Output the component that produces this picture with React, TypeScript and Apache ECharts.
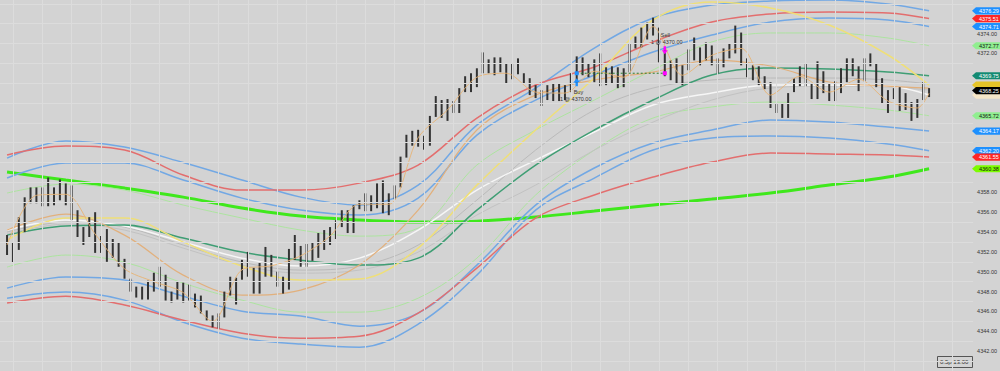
import React, { useEffect, useRef } from 'react';
import * as echarts from 'echarts';

// ---- OHLC bar ranges (price) ----
const highs = [
  4353.7, 4352.9, 4355.5, 4357.5, 4358.5, 4358.5, 4358.5, 4359.5, 4358.5, 4359.3,
  4358.9, 4358.7, 4356.2, 4354.5, 4355.5, 4356.0, 4353.6, 4354.3, 4353.3, 4353.0,
  4351.3, 4349.3, 4348.5, 4348.5, 4349.1, 4349.9, 4350.5, 4349.7, 4348.0, 4349.0,
  4348.9, 4348.7, 4347.8, 4347.6, 4346.1, 4345.6, 4345.8, 4348.0, 4349.5, 4349.4,
  4351.2, 4352.0, 4350.4, 4350.9, 4352.5, 4351.7, 4350.0, 4349.5, 4352.3, 4353.7,
  4352.6, 4352.8, 4352.9, 4353.9, 4354.2, 4354.5, 4355.2, 4356.2, 4356.2, 4356.7,
  4357.2, 4357.9, 4357.7, 4358.9, 4359.2, 4357.9, 4358.7, 4361.6, 4363.8, 4364.2,
  4364.3, 4363.7, 4365.7, 4367.7, 4367.3, 4367.4, 4367.2, 4368.5, 4369.7, 4370.0,
  4370.5, 4372.1, 4371.4, 4371.6, 4371.6, 4371.0, 4371.0, 4371.5, 4370.0, 4369.5,
  4368.8, 4368.3, 4368.8, 4369.0, 4369.0, 4368.8, 4370.0, 4371.7, 4371.6, 4371.0,
  4371.4, 4372.0, 4370.6, 4370.7, 4370.6, 4370.5, 4373.0, 4373.7, 4374.6, 4375.1,
  4375.6, 4374.6, 4372.5, 4371.3, 4371.5, 4370.8, 4372.4, 4373.6, 4372.6, 4373.1,
  4372.8, 4371.5, 4372.5, 4373.0, 4374.8, 4374.1, 4371.5, 4370.8, 4370.7, 4369.7,
  4369.1, 4366.9, 4367.0, 4368.0, 4369.5, 4370.7, 4371.0, 4369.0, 4371.2, 4370.2,
  4369.0, 4369.2, 4370.5, 4371.5, 4371.5, 4370.7, 4371.5, 4372.0, 4371.0, 4369.5,
  4368.3, 4368.5, 4368.6, 4368.0, 4367.1, 4367.4, 4369.1, 4368.5,
];
const lows = [
  4351.7, 4350.9, 4352.2, 4354.0, 4356.9, 4356.9, 4356.6, 4356.6, 4356.7, 4357.2,
  4356.7, 4355.2, 4353.5, 4352.7, 4353.5, 4351.9, 4351.9, 4351.0, 4351.4, 4350.5,
  4349.3, 4348.0, 4347.4, 4347.2, 4347.2, 4348.0, 4348.5, 4347.1, 4346.9, 4347.2,
  4346.9, 4347.1, 4346.4, 4345.8, 4345.1, 4344.4, 4344.3, 4345.4, 4347.6, 4346.7,
  4349.2, 4349.5, 4347.8, 4347.8, 4349.5, 4349.5, 4348.5, 4347.8, 4348.2, 4351.2,
  4350.5, 4350.5, 4351.1, 4351.4, 4352.2, 4352.7, 4353.3, 4354.5, 4353.9, 4353.9,
  4356.3, 4356.1, 4356.1, 4356.4, 4355.9, 4355.7, 4357.3, 4358.5, 4361.5, 4362.7,
  4362.6, 4362.3, 4362.7, 4365.6, 4365.5, 4365.2, 4366.0, 4366.0, 4368.1, 4368.1,
  4368.6, 4370.0, 4370.0, 4369.8, 4370.1, 4369.0, 4369.4, 4369.9, 4369.0, 4367.8,
  4367.5, 4366.7, 4367.3, 4367.2, 4367.2, 4367.3, 4368.1, 4369.0, 4369.8, 4369.6,
  4369.1, 4368.7, 4368.8, 4369.0, 4368.5, 4368.6, 4370.1, 4372.5, 4372.6, 4373.4,
  4373.8, 4371.1, 4369.7, 4369.3, 4369.0, 4368.8, 4370.3, 4371.3, 4370.8, 4371.3,
  4370.8, 4370.0, 4370.6, 4371.5, 4372.0, 4370.8, 4369.6, 4369.3, 4368.8, 4368.4,
  4366.5, 4366.0, 4365.5, 4365.5, 4368.1, 4368.7, 4368.7, 4367.4, 4367.4, 4368.0,
  4367.2, 4367.2, 4368.0, 4369.1, 4369.7, 4368.2, 4369.2, 4370.7, 4368.6, 4366.9,
  4366.0, 4367.4, 4366.2, 4366.3, 4365.2, 4365.5, 4367.3, 4367.6,
];

// ---- indicator lines, sampled at these bar indices ----
const lineIdx = [0, 10, 20, 30, 40, 50, 60, 70, 80, 90, 100, 110, 120, 130, 140, 150, 157];
const upperBlueOuter = [4361.45, 4363.17, 4362.56, 4361.0, 4359.24, 4357.52, 4356.72, 4358.73, 4364.78, 4368.51, 4372.54, 4375.57, 4376.88, 4377.28, 4377.38, 4376.98, 4376.29];
const upperRed = [4361.76, 4362.66, 4362.26, 4359.74, 4358.23, 4358.23, 4358.93, 4360.75, 4365.49, 4368.81, 4370.63, 4373.15, 4375.16, 4375.97, 4376.17, 4376.07, 4375.51];
const upperBlueInner = [4359.44, 4360.95, 4360.95, 4359.24, 4357.42, 4356.21, 4355.71, 4357.42, 4363.77, 4367.3, 4369.82, 4372.14, 4373.85, 4375.16, 4375.57, 4375.37, 4374.71];
const upperThinGreen = [4357.93, 4358.83, 4358.23, 4356.72, 4355.41, 4354.2, 4353.59, 4354.4, 4360.75, 4364.28, 4367.3, 4370.33, 4373.15, 4374.06, 4374.06, 4373.55, 4372.77];
const yellowLine = [4353.19, 4355.41, 4355.41, 4352.99, 4350.57, 4349.16, 4349.26, 4352.38, 4358.73, 4364.28, 4369.52, 4375.37, 4377.18, 4376.58, 4374.86, 4371.84, 4368.81];
const tanLine = [4354.2, 4355.81, 4353.69, 4349.66, 4347.64, 4348.15, 4350.67, 4356.21, 4364.28, 4367.8, 4369.32, 4370.12, 4371.33, 4370.73, 4369.12, 4368.71, 4368.51];
const tealLine = [4353.69, 4354.6, 4354.7, 4353.39, 4351.98, 4351.17, 4350.67, 4351.37, 4356.21, 4360.75, 4364.28, 4367.3, 4369.82, 4370.53, 4370.43, 4370.12, 4369.75];
const whiteLine = [4354.2, 4355.21, 4354.6, 4352.99, 4351.37, 4350.57, 4351.37, 4354.2, 4358.23, 4361.25, 4364.08, 4366.8, 4368.01, 4368.81, 4368.81, 4368.71, 4367.8];
const grayLine1 = [4354.0, 4355.0, 4354.5, 4352.69, 4350.97, 4350.17, 4350.57, 4352.69, 4357.22, 4362.26, 4366.29, 4368.51, 4369.32, 4369.52, 4369.52, 4369.32, 4368.92];
const grayLine2 = [4353.79, 4354.8, 4354.2, 4352.38, 4350.67, 4349.86, 4350.17, 4351.98, 4355.71, 4358.73, 4362.26, 4365.08, 4367.3, 4368.51, 4368.71, 4368.61, 4368.31];
const lowerThinGreen = [4350.47, 4351.68, 4350.97, 4348.85, 4347.14, 4345.93, 4345.93, 4347.34, 4351.37, 4357.73, 4362.26, 4365.49, 4366.6, 4367.1, 4366.8, 4366.29, 4365.72];
const lowerBlueInner = [4348.35, 4349.46, 4349.16, 4347.54, 4346.03, 4345.53, 4344.52, 4345.83, 4350.67, 4356.72, 4360.45, 4362.97, 4364.28, 4365.29, 4365.08, 4364.58, 4364.17];
const lowerBlueOuter = [4347.34, 4347.95, 4347.14, 4344.92, 4343.31, 4342.71, 4342.4, 4344.72, 4349.66, 4356.21, 4359.44, 4362.26, 4363.47, 4363.67, 4363.47, 4362.87, 4362.2];
const lowerRed = [4346.84, 4347.54, 4346.64, 4345.12, 4343.81, 4343.31, 4343.51, 4345.83, 4350.37, 4355.41, 4357.73, 4359.54, 4361.05, 4361.96, 4361.86, 4361.76, 4361.55];
const sma200 = [4360.04, 4359.24, 4358.43, 4357.52, 4356.42, 4355.61, 4355.21, 4355.0, 4355.1, 4355.51, 4356.11, 4356.72, 4357.32, 4357.93, 4358.73, 4359.54, 4360.38];

// fast line following the closes, sampled every 5 bars
const closeIdx = [0, 5, 10, 15, 20, 25, 30, 35, 40, 45, 50, 55, 60, 65, 70, 75, 80, 85, 90, 95, 100, 105, 110, 115, 120, 125, 130, 135, 140, 145, 150, 155, 157];
const closeLine = [4352.7, 4357.7, 4357.8, 4353.8, 4350.3, 4349.0, 4347.9, 4345.0, 4350.2, 4350.6, 4351.6, 4353.6, 4356.8, 4356.8, 4363.5, 4366.3, 4369.6, 4370.0, 4368.1, 4368.0, 4370.2, 4369.6, 4374.7, 4369.8, 4371.8, 4372.5, 4367.8, 4369.7, 4368.1, 4369.4, 4367.2, 4366.5, 4368.0];

// price tags on the right axis
const tagValues = [4376.29, 4375.51, 4374.71, 4372.77, 4369.75, 4368.81, 4367.8, 4365.72, 4364.17, 4362.2, 4361.55, 4360.38, 4368.25];
const tagFills = ['#1e90ff', '#ff2626', '#1e90ff', '#90ee90', '#138a72', '#e6c428', '#f5e6c8', '#90ee90', '#1e90ff', '#1e90ff', '#ff2626', '#7cfc00', '#000000'];
const tagTextColors = ['#fff', '#fff', '#fff', '#111', '#fff', '#111', '#111', '#111', '#fff', '#fff', '#fff', '#111', '#fff'];
// tags almost fully covered by the last-price tag show no readable text
const tagHasText = [true, true, true, true, true, false, false, true, true, true, true, true, true];

// trades
const tradeIdx = [97, 112];
const tradePrice = [4370, 4370];
const tradeSide = ['Buy', 'Sell'];
const tradeQty = [1, 1];

const FONT = '"Liberation Sans", Arial, sans-serif';

function mkLine(values: number[], color: string, width: number, z: number) {
  return {
    type: 'line',
    data: lineIdx.map((x, k) => [x, values[k]]),
    smooth: 0.35,
    showSymbol: false,
    symbol: 'none',
    silent: true,
    lineStyle: { color, width },
    z,
  };
}

export default function App() {
  const ref = useRef<HTMLDivElement>(null);
  useEffect(() => {
    const chart = echarts.init(ref.current!, null, { renderer: 'svg' });
    const vGrid: any[] = [];
    for (let i = 1; i <= 164; i += 5) vGrid.push({ xAxis: i });
    const hGrid: any[] = [];
    for (let v = 4341; v <= 4377; v += 2) hGrid.push({ yAxis: v });

    const option: any = {
      animation: false,
      backgroundColor: '#d3d3d3',
      grid: { left: 0, right: 25, top: 0, bottom: 0 },
      xAxis: { type: 'value', min: -1.2, max: 164.5, show: false },
      yAxis: {
        type: 'value',
        position: 'right',
        min: 4340,
        max: 4377.38,
        interval: 2,
        axisLine: { show: false },
        axisTick: { show: false },
        splitLine: { show: false },
        axisLabel: {
          showMinLabel: false,
          showMaxLabel: false,
          margin: 4,
          fontSize: 5.5,
          fontFamily: FONT,
          color: '#333',
          formatter: (v: number) => (tagValues.some((t) => Math.abs(t - v) < 0.6) ? '' : v.toFixed(2)),
        },
      },
      graphic: [
        { type: 'rect', left: 937, top: 356, shape: { width: 35, height: 11 }, style: { fill: '#d3d3d3', stroke: '#555', lineWidth: 1 } },
        { type: 'text', left: 940, top: 359, style: { text: '0.5p 13.00', fill: '#333', font: `6px ${FONT}` } },
      ],
      series: [
        {
          type: 'line',
          data: [[-1.2, 4340]],
          showSymbol: false,
          lineStyle: { width: 0 },
          silent: true,
          z: 0,
          markLine: {
            silent: true,
            symbol: ['none', 'none'],
            label: { show: false },
            lineStyle: { color: '#dcdcdc', width: 1, type: 'solid' },
            data: [...vGrid, ...hGrid],
          },
        },
        mkLine(sma200, '#3fe81c', 3, 2),
        mkLine(upperBlueOuter, '#72a8e4', 1.5, 2),
        mkLine(upperRed, '#e36e6e', 1.5, 2),
        mkLine(upperBlueInner, '#72a8e4', 1.5, 2),
        mkLine(upperThinGreen, '#a8e59a', 0.9, 2),
        mkLine(lowerThinGreen, '#a8e59a', 0.9, 2),
        mkLine(lowerBlueInner, '#72a8e4', 1.5, 2),
        mkLine(lowerBlueOuter, '#72a8e4', 1.5, 2),
        mkLine(lowerRed, '#e36e6e', 1.5, 2),
        mkLine(grayLine2, '#c2c2c2', 1, 2),
        mkLine(grayLine1, '#bababa', 1, 2),
        mkLine(whiteLine, '#f6f6f6', 1.5, 2),
        mkLine(tealLine, '#3f9e74', 1.5, 2),
        mkLine(tanLine, '#e2b07c', 1.2, 2),
        mkLine(yellowLine, '#efdf78', 1.5, 2),
        {
          type: 'custom',
          z: 3,
          silent: true,
          data: highs.map((h, i) => [i, h, lows[i]]),
          renderItem: (params: any, api: any) => {
            const i = api.value(0);
            const hi = api.coord([i, api.value(1)]);
            const lo = api.coord([i, api.value(2)]);
            return {
              type: 'rect',
              shape: { x: hi[0] - 1, y: hi[1], width: 2, height: Math.max(1, lo[1] - hi[1]) },
              style: { fill: '#333333' },
            };
          },
        },
        {
          type: 'line',
          data: closeIdx.map((x, k) => [x, closeLine[k]]),
          smooth: 0.3,
          showSymbol: false,
          silent: true,
          lineStyle: { color: '#e8b374', width: 0.9 },
          z: 4,
        },
        {
          type: 'line',
          data: tradeIdx.map((x, k) => [x, tradePrice[k]]),
          showSymbol: false,
          silent: true,
          lineStyle: { color: '#2f7f2f', width: 1, type: [2, 2] },
          z: 5,
        },
        {
          type: 'custom',
          z: 6,
          silent: true,
          clip: false,
          data: tradeIdx.map((x, k) => [x, tradePrice[k], k]),
          renderItem: (params: any, api: any) => {
            const k = api.value(2);
            const price = api.value(1);
            const p = api.coord([api.value(0), price]);
            const x = p[0];
            const y = p[1];
            const sell = tradeSide[k] === 'Sell';
            const col = sell ? '#ff00ff' : '#1e90ff';
            const txt = `${tradeQty[k]} @ ${price.toFixed(2)}`;
            const font = `5.5px ${FONT}`;
            const children: any[] = [
              { type: 'rect', shape: { x: x - 2, y: y - 2, width: 4, height: 4 }, style: { fill: col } },
            ];
            if (!sell) {
              children.push({ type: 'polygon', shape: { points: [[x, y + 5], [x - 3, y + 9], [x + 3, y + 9]] }, style: { fill: col } });
              children.push({ type: 'rect', shape: { x: x - 1.2, y: y + 9, width: 2.4, height: 4 }, style: { fill: col } });
              children.push({ type: 'text', style: { text: tradeSide[k], x: x - 3, y: y + 19, fill: '#333', font, align: 'left', verticalAlign: 'middle' } });
              children.push({ type: 'text', style: { text: txt, x: x - 1, y: y + 26, fill: '#333', font, align: 'center', verticalAlign: 'middle' } });
            } else {
              children.push({ type: 'rect', shape: { x: x - 1.2, y: y - 27, width: 2.4, height: 4 }, style: { fill: col } });
              children.push({ type: 'polygon', shape: { points: [[x - 3, y - 23], [x + 3, y - 23], [x, y - 19]] }, style: { fill: col } });
              children.push({ type: 'text', style: { text: tradeSide[k], x: x - 4, y: y - 38, fill: '#333', font, align: 'left', verticalAlign: 'middle' } });
              children.push({ type: 'text', style: { text: txt, x: x + 2, y: y - 31, fill: '#333', font, align: 'center', verticalAlign: 'middle' } });
            }
            return { type: 'group', children };
          },
        },
        {
          type: 'custom',
          z: 10,
          silent: true,
          clip: false,
          data: tagValues.map((v, i) => [i, v]),
          renderItem: (params: any, api: any) => {
            const i = params.dataIndex;
            const v = api.value(1);
            const y = api.coord([0, v])[1];
            const x0 = 972;
            const x1 = 1000;
            const h = 3.6;
            const children: any[] = [
              {
                type: 'polygon',
                shape: { points: [[x0, y], [x0 + 4, y - h], [x1, y - h], [x1, y + h], [x0 + 4, y + h]] },
                style: { fill: tagFills[i] },
              },
            ];
            if (tagHasText[i]) {
              children.push({
                type: 'text',
                style: { text: v.toFixed(2), x: 979, y, fill: tagTextColors[i], font: `5.5px ${FONT}`, align: 'left', verticalAlign: 'middle' },
              });
            }
            return { type: 'group', children };
          },
        },
      ],
    };
    chart.setOption(option);
    return () => chart.dispose();
  }, []);
  return <div ref={ref} style={{ position: 'fixed', left: 0, top: 0, width: 1000, height: 371 }} />;
}
